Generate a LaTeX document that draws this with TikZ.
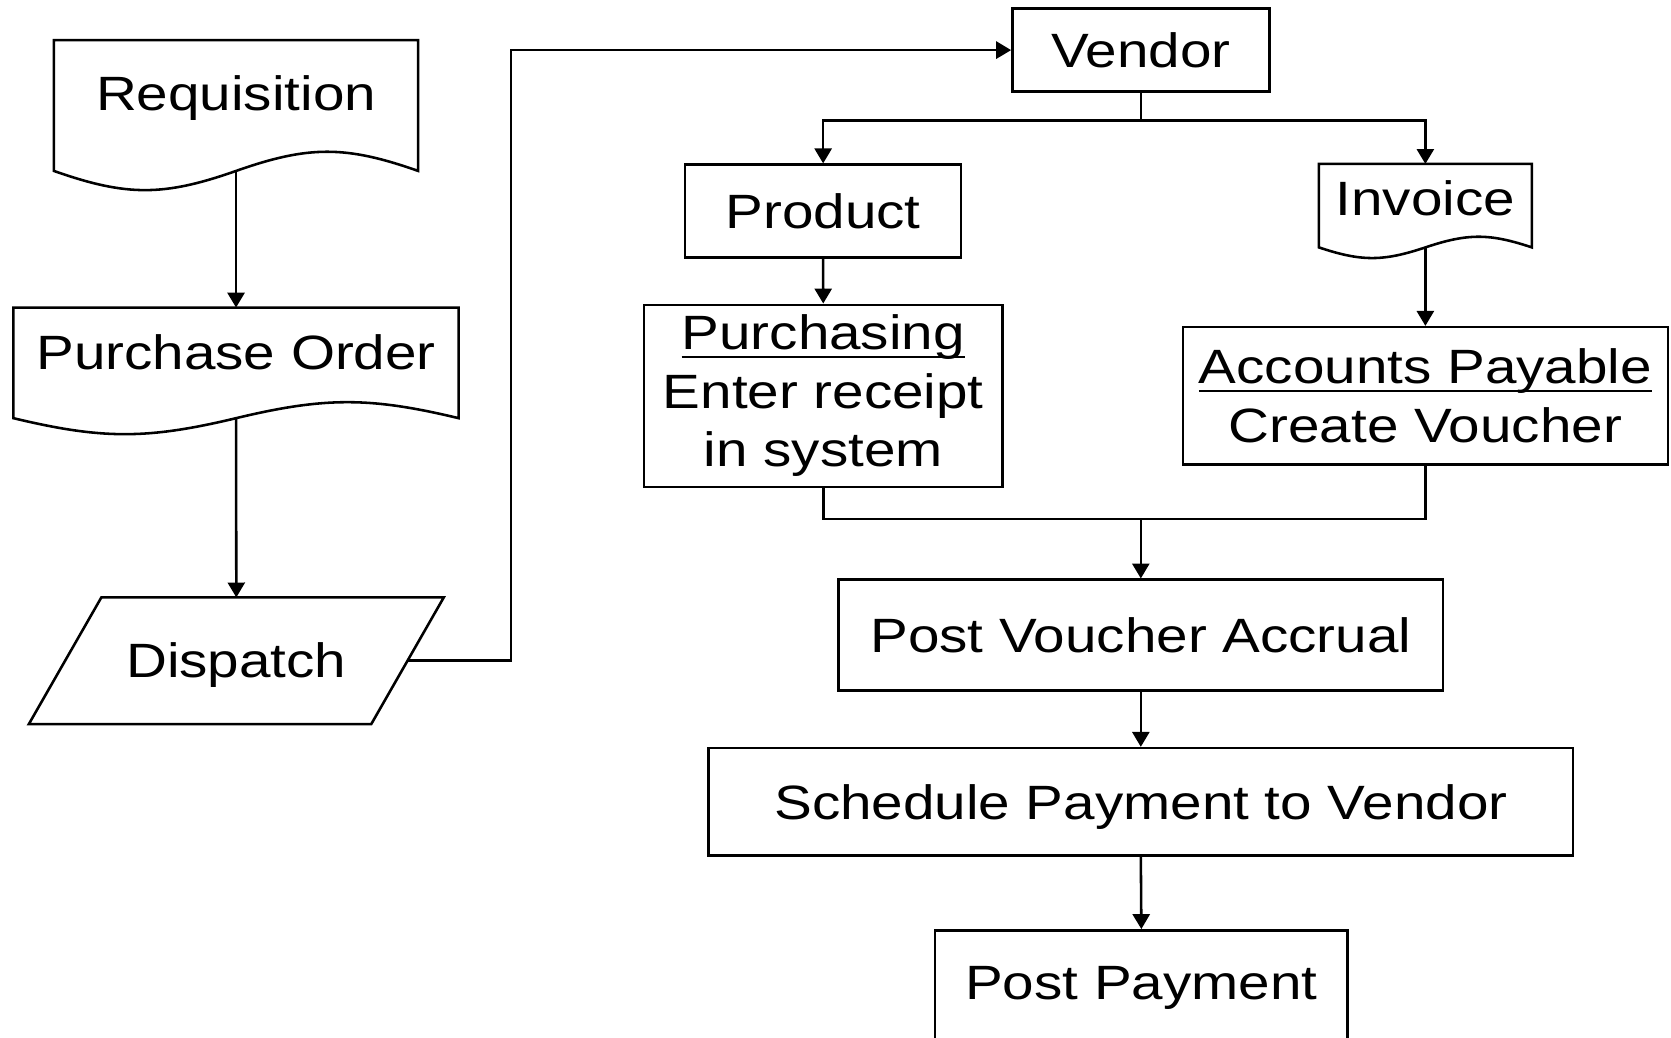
\documentclass[tikz,border=0pt]{standalone}
\usepackage{fontspec}
\newfontfamily\chartfont{Liberation Sans}[FakeStretch=1.175]
\usetikzlibrary{arrows.meta,calc}

% underline drawn just below the baseline, crossing descenders
\newcommand\ulword[1]{\setbox0\hbox{#1}\rlap{\rule[-4pt]{\wd0}{1.1pt}}\box0}

% outline of a document symbol: straight top and sides, wavy bottom
% #1 node name, #2 width (picture units), #3 wave amplitude (picture units)
\newcommand\docoutline[3]{%
  \draw[plain] (#1.north west) -- (#1.north east) -- (#1.south east)
    .. controls ($(#1.south east)+({-0.2*#2},{-4/3*#3})$) and ($(#1.south)+({0.2*#2},{-4/3*#3})$) .. (#1.south)
    .. controls ($(#1.south)+({-0.2*#2},{4/3*#3})$) and ($(#1.south west)+({0.2*#2},{4/3*#3})$) .. (#1.south west)
    -- cycle;}

\tikzset{
  plain/.style={line width=1.2pt, line join=miter},
  conn/.style={line width=1.2pt, -{Triangle[length=7pt,width=8pt]}},
  box/.style={draw, line width=1.2pt, inner sep=0pt, text height=16.2pt, text depth=0pt},
  doc/.style={inner sep=0pt, text height=16.2pt},
  multibox/.style={draw, line width=1.2pt, inner sep=0pt, align=center},
}

\begin{document}
\begin{tikzpicture}[x=0.5pt, y=-0.5pt,
  node font=\chartfont\fontsize{22.6pt}{27.4pt}\selectfont]
\clip (0,0) rectangle (1568,974);

% left column: requisition, purchase order, dispatch
\node[doc, minimum width=170.5pt, minimum height=61pt, text depth=11.2pt] (req) at (221.5,99) {Requisition};
\docoutline{req}{341}{18}
\node[doc, minimum width=208.5pt, minimum height=51.5pt, text depth=9.7pt] (po) at (221.5,340.5) {Purchase Order};
\docoutline{po}{417}{15}
\node[doc, text depth=0pt, minimum width=160.25pt, minimum height=59pt] (disp) at (221.75,620) {Dispatch};
\draw[plain] ($(disp.north west)+(34,0)$) -- ($(disp.north east)+(34,0)$)
  -- ($(disp.south east)+(-34,0)$) -- ($(disp.south west)+(-34,0)$) -- cycle;

% vendor and its two outputs
\node[box, minimum width=120.5pt, minimum height=39pt] (vendor) at (1070.5,47) {Vendor};
\node[box, minimum width=129.5pt, minimum height=43.5pt] (product) at (772.4,198) {Product};
\node[doc, minimum width=99.5pt, minimum height=38.75pt, text depth=7.2pt] (invoice) at (1337.5,193) {Invoice};
\docoutline{invoice}{199}{10}

\node[multibox, minimum width=168pt, minimum height=85.5pt] (purch) at (772.5,371.5)
  {\ulword{Purchasing}\\Enter receipt\\in system};
\node[multibox, minimum width=227.5pt, minimum height=64.5pt] (ap) at (1337.5,371.5)
  {\ulword{Accounts Payable}\\Create Voucher};

% payment steps
\node[box, minimum width=283.5pt, minimum height=52pt] (pva) at (1070.5,596) {Post Voucher Accrual};
\node[box, minimum width=405.5pt, minimum height=50.5pt] (sched) at (1070.5,752.5) {Schedule Payment to Vendor};
\node[box, minimum width=193.5pt, minimum height=60pt, text depth=11pt] (pay) at (1071,933) {Post Payment};

% connectors
\draw[conn] (req.south) -- (po.north);
\draw[conn] (po.south) -- (disp.north);
\draw[conn] (disp.east) -- ++(97,0) |- (vendor.west);

\draw[plain] (vendor.south) -- ++(0,26) coordinate (split);
\draw[conn] (split) -| (product.north);
\draw[conn] (split) -| (invoice.north);

\draw[conn] (product.south) -- (purch.north);
\draw[conn] (invoice.south) -- (ap.north);

\path (pva.north) ++(0,-56) coordinate (join);
\draw[plain] (purch.south) |- (join) -| (ap.south);
\draw[conn] (join) -- (pva.north);

\draw[conn] (pva.south) -- (sched.north);
\draw[conn] (sched.south) -- (pay.north);
\end{tikzpicture}
\end{document}
